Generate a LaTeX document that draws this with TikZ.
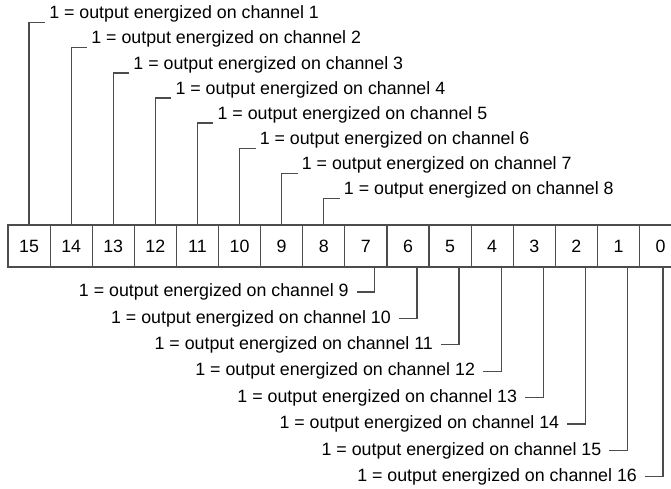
\documentclass[tikz,border=0pt]{standalone}
\usepackage{fontspec}
\setmainfont{Liberation Sans}
\usepackage{tikz}
\usetikzlibrary{positioning}

\begin{document}
\begin{tikzpicture}[
  x=1pt, y=-1pt,
  node distance=0pt,
  bitbox/.style={
    draw=black!70,
    line width=1.2pt,
    rectangle,
    minimum width=42.1pt,
    minimum height=42pt,
    inner sep=0pt,
    outer sep=0pt,
    font=\fontsize{17.8}{20}\selectfont
  },
  note/.style={
    inner xsep=4pt,
    inner ysep=0pt,
    font=\fontsize{17.8}{20}\selectfont
  },
  notebelow/.style={
    note,
    inner xsep=8pt,
    anchor=east
  },
  leader/.style={draw=black!70, line width=1.2pt}
]
\useasboundingbox (0,0) rectangle (671,488);
\clip (0,0) rectangle (671,488);

% the register, bit 15 on the left
\node[bitbox] (b15) at (29.05,246) {15};
\node[bitbox, right=of b15] (b14) {14};
\node[bitbox, right=of b14] (b13) {13};
\node[bitbox, right=of b13] (b12) {12};
\node[bitbox, right=of b12] (b11) {11};
\node[bitbox, right=of b11] (b10) {10};
\node[bitbox, right=of b10] (b9) {9};
\node[bitbox, right=of b9] (b8) {8};
\node[bitbox, right=of b8] (b7) {7};
\node[bitbox, right=of b7] (b6) {6};
\node[bitbox, right=of b6] (b5) {5};
\node[bitbox, right=of b5] (b4) {4};
\node[bitbox, right=of b4] (b3) {3};
\node[bitbox, right=of b3] (b2) {2};
\node[bitbox, right=of b2] (b1) {1};
\node[bitbox, right=of b1] (b0) {0};

% upper byte
\node[note, anchor=south west] (ch1) at (45.05,22.7) {1 = output energized on channel 1};
\node[note, anchor=south west] (ch2) at (87.15,47.8) {1 = output energized on channel 2};
\node[note, anchor=south west] (ch3) at (129.25,72.9) {1 = output energized on channel 3};
\node[note, anchor=south west] (ch4) at (171.35,98.0) {1 = output energized on channel 4};
\node[note, anchor=south west] (ch5) at (213.45,123.0) {1 = output energized on channel 5};
\node[note, anchor=south west] (ch6) at (255.55,148.1) {1 = output energized on channel 6};
\node[note, anchor=south west] (ch7) at (297.65,173.2) {1 = output energized on channel 7};
\node[note, anchor=south west] (ch8) at (339.75,198.3) {1 = output energized on channel 8};

% lower byte
\node[notebelow] (ch9) at (356.85,292.0) {1 = output energized on channel 9};
\node[notebelow] (ch10) at (398.95,318.4) {1 = output energized on channel 10};
\node[notebelow] (ch11) at (441.05,344.8) {1 = output energized on channel 11};
\node[notebelow] (ch12) at (483.15,371.2) {1 = output energized on channel 12};
\node[notebelow] (ch13) at (525.25,397.6) {1 = output energized on channel 13};
\node[notebelow] (ch14) at (567.35,424.0) {1 = output energized on channel 14};
\node[notebelow] (ch15) at (609.45,450.4) {1 = output energized on channel 15};
\node[notebelow] (ch16) at (645.05,476.8) {1 = output energized on channel 16};

\draw[leader] (b15.north) |- (ch1.south west);
\draw[leader] (b14.north) |- (ch2.south west);
\draw[leader] (b13.north) |- (ch3.south west);
\draw[leader] (b12.north) |- (ch4.south west);
\draw[leader] (b11.north) |- (ch5.south west);
\draw[leader] (b10.north) |- (ch6.south west);
\draw[leader] (b9.north) |- (ch7.south west);
\draw[leader] (b8.north) |- (ch8.south west);

\draw[leader] ([xshift=9pt]b7.south) |- (ch9.east);
\draw[leader] ([xshift=9pt]b6.south) |- (ch10.east);
\draw[leader] ([xshift=9pt]b5.south) |- (ch11.east);
\draw[leader] ([xshift=9pt]b4.south) |- (ch12.east);
\draw[leader] ([xshift=9pt]b3.south) |- (ch13.east);
\draw[leader] ([xshift=9pt]b2.south) |- (ch14.east);
\draw[leader] ([xshift=9pt]b1.south) |- (ch15.east);
\draw[leader] ([xshift=2.5pt]b0.south) |- (ch16.east);

\end{tikzpicture}
\end{document}
